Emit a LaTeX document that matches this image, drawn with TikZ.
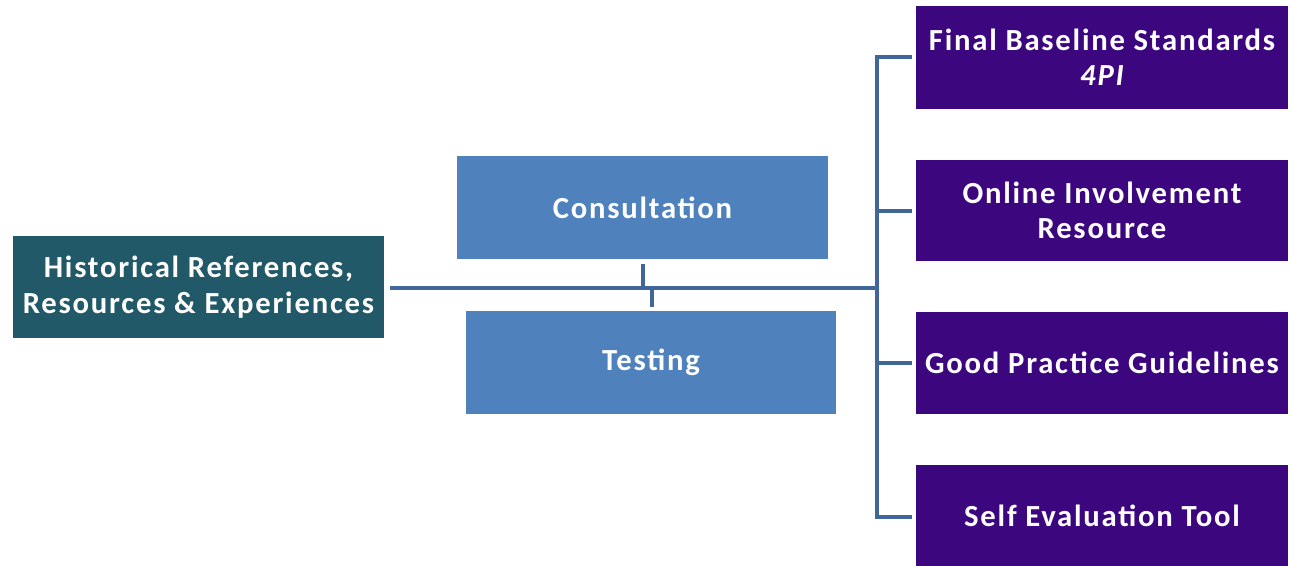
\documentclass[tikz,border=0pt]{standalone}
\usepackage{fontspec}
\setmainfont{Carlito}[LetterSpace=5.8]
\definecolor{tealbox}{HTML}{215968}
\definecolor{bluebox}{HTML}{4F81BD}
\definecolor{purplebox}{HTML}{3C077E}
\definecolor{linec}{HTML}{41679A}
\tikzset{
  box/.style={inner sep=0pt, text=white, font=\fontsize{23}{26.5}\selectfont\bfseries, align=center},
  conn/.style={draw=linec, line width=3pt},
}
\begin{document}
\begin{tikzpicture}[x=0.75pt,y=-0.75pt]
\useasboundingbox (0,0) rectangle (1291,566);
% boxes
\fill[tealbox] (13,236) rectangle (384,338);
\node[box] (hist) at (198.5,287) {Historical References,\\Resources \& Experiences};
\fill[bluebox] (457,156) rectangle (828,259);
\node[box] (cons) at (642.5,207.5) {Consultation};
\fill[bluebox] (466,311) rectangle (836,414);
\node[box] (test) at (651,362.5) {Testing};
\fill[purplebox] (916,6) rectangle (1288,109);
\node[box] (f1) at (1102,57.5) {Final Baseline Standards\\\itshape 4PI};
\fill[purplebox] (916,160) rectangle (1288,261);
\node[box] (f2) at (1102,210.5) {Online Involvement\\Resource};
\fill[purplebox] (916,312) rectangle (1288,414);
\node[box] (f3) at (1102,363) {Good Practice Guidelines};
\fill[purplebox] (916,465) rectangle (1288,566);
\node[box] (f4) at (1102,515.5) {Self Evaluation Tool};
% connectors
\coordinate (a) at (390,288);
\coordinate (b) at (877,288);
\coordinate (t1) at (643,264);
\coordinate (t1b) at (643,288);
\coordinate (t2) at (652,307);
\coordinate (t2b) at (652,288);
\coordinate (vtop) at (877,57);
\coordinate (vbot) at (877,517);
\draw[conn] (a) -- (b);
\draw[conn] (t1) -- (t1b);
\draw[conn] (t2b) -- (t2);
\draw[conn, line join=miter] (912,57) -- (vtop) -- (vbot) -- (912,517);
\draw[conn] (877,211) -- (912,211);
\draw[conn] (877,363) -- (912,363);
\end{tikzpicture}
\end{document}
